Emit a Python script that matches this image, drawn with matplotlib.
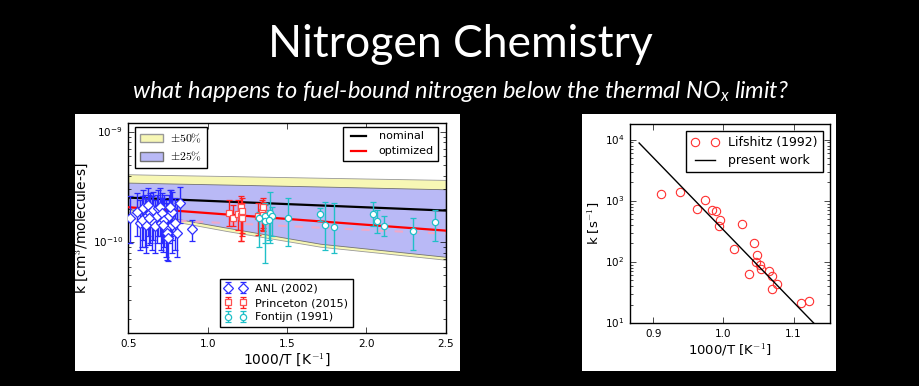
import matplotlib
matplotlib.use('Agg')
import numpy as np
import matplotlib.pyplot as plt
from matplotlib.patches import Patch, Rectangle
from matplotlib.lines import Line2D

plt.style.use('classic')
plt.rcParams['mathtext.fontset'] = 'cm'
plt.rcParams['mathtext.it'] = 'Lato:italic'
plt.rcParams['mathtext.rm'] = 'Lato:italic'

# ---- left panel data (k in units of 1e-10 cm3/molecule-s) ----
band_x = [0.5, 0.8, 1.12, 1.71, 2.5]
yellow_top = [4.12, 4.04, 3.97, 3.83, 3.66]
blue_top = [3.46, 3.39, 3.32, 3.19, 3.01]
blue_bot = [2.00, 1.63, 1.35, 0.966, 0.736]
yellow_bot = [1.88, 1.53, 1.26, 0.908, 0.692]

line_x = [0.5, 2.5]
nominal = [2.53, 1.93]
optimized = [2.07, 1.27]
prior_fit = [1.64, 1.19]

anl_x = [0.51, 0.557, 0.574, 0.595, 0.605, 0.609, 0.622, 0.637, 0.647, 0.658,
         0.668, 0.679, 0.689, 0.70, 0.706, 0.714, 0.727, 0.735, 0.742, 0.748,
         0.756, 0.767, 0.773, 0.777, 0.794, 0.805, 0.828, 0.903, 0.584, 0.63,
         0.72, 0.76]
anl_k = [1.65, 1.89, 1.49, 2.03, 1.65, 1.44, 2.17, 1.83, 1.54, 1.96,
         1.39, 1.71, 2.03, 2.10, 1.49, 1.83, 1.59, 1.34, 1.21, 1.09,
         1.71, 2.03, 1.44, 1.89, 1.49, 1.21, 2.28, 1.31, 1.59, 1.65,
         1.44, 2.10]
anl_hi = [2.59, 2.77, 2.42, 2.97, 2.68, 2.50, 3.07, 2.77, 2.59, 2.87,
          2.42, 2.68, 2.97, 3.07, 2.50, 2.77, 2.68, 2.42, 2.25, 2.10,
          2.68, 2.97, 2.42, 2.87, 2.50, 2.25, 3.18, 1.59, 2.59, 2.68,
          2.50, 2.97]
anl_lo = [0.98, 1.13, 0.85, 1.05, 0.91, 0.80, 1.13, 0.98, 0.85, 1.05,
          0.80, 0.98, 1.13, 1.13, 0.85, 0.98, 0.91, 0.74, 0.69, 0.67,
          0.98, 1.13, 0.80, 1.05, 0.85, 0.74, 1.49, 1.02, 0.91, 0.945,
          0.82, 1.09]

pr_x = [1.134, 1.162, 1.193, 1.208, 1.21, 1.215, 1.218, 1.319, 1.34, 1.351, 1.347]
pr_k = [1.83, 1.65, 1.80, 1.71, 2.10, 1.93, 1.65, 1.71, 1.89, 1.77, 2.10]
pr_hi = [2.42, 2.17, 2.42, 2.25, 2.64, 2.50, 2.25, 2.25, 2.42, 2.33, 2.50]
pr_lo = [1.39, 1.39, 1.29, 1.02, 1.02, 1.13, 1.21, 1.17, 1.29, 1.25, 1.34]

fo_x = [1.324, 1.36, 1.36, 1.393, 1.403, 1.389, 1.508, 1.71, 1.739, 1.798,
        2.04, 2.065, 2.111, 2.296, 2.433]
fo_k = [1.65, 1.73, 1.54, 1.85, 1.71, 1.57, 1.65, 1.79, 1.44, 1.37,
        1.80, 1.54, 1.41, 1.25, 1.51]
fo_hi = [1.89, 2.25, 2.17, 2.87, 2.10, 1.96, 2.50, 2.03, 2.33, 2.25,
         2.33, 1.96, 1.71, 1.65, 1.96]
fo_lo = [0.91, 0.98, 0.645, 0.98, 1.13, 1.05, 0.93, 1.54, 0.85, 0.80,
         1.39, 1.21, 1.13, 0.85, 1.02]

# ---- right panel data ----
lif_x = [0.911, 0.938, 0.963, 0.974, 0.984, 0.990, 0.995, 0.994, 1.027, 1.015,
         1.044, 1.048, 1.047, 1.052, 1.053, 1.037, 1.065, 1.070, 1.076, 1.070,
         1.110, 1.122]
lif_k = [1306, 1410, 733, 1016, 714, 688, 491, 382, 417, 163,
         204, 131, 98, 90, 76, 63, 72, 59, 43, 36,
         21, 23]
present_x = [0.88, 1.15]
present_k = [8800, 5.6]

S = 1e-10
yellow_c = '#f7f7b5'
blue_c = '#b9b9f6'

fig = plt.figure(figsize=(9.2, 3.86), dpi=100, facecolor='black')

# white slide panels
fig.add_artist(Rectangle((75 / 920, 15 / 386), 385 / 920, 257 / 386,
                         transform=fig.transFigure, facecolor='white',
                         edgecolor='none', zorder=0))
fig.add_artist(Rectangle((582 / 920, 15 / 386), 254 / 920, 257 / 386,
                         transform=fig.transFigure, facecolor='white',
                         edgecolor='none', zorder=0))

fig.text(0.5, 0.852, 'Nitrogen Chemistry', color='white', family='Lato',
         fontsize=32, ha='center', va='baseline')
fig.text(0.5, 0.745,
         r'what happens to fuel-bound nitrogen below the thermal NO$_x$ limit?',
         color='white', family='Lato', style='italic',
         fontsize=17, ha='center', va='baseline', math_fontfamily='custom')

# ---- left axes ----
ax = fig.add_axes([128.3 / 920, 53 / 386, 317.4 / 920, 210 / 386])
bx = np.array(band_x)
ax.fill_between(bx, np.array(yellow_bot) * S, np.array(yellow_top) * S,
                facecolor=yellow_c, edgecolor='0.6', linewidth=0.6, zorder=1)
ax.fill_between(bx, np.array(blue_bot) * S, np.array(blue_top) * S,
                facecolor=blue_c, edgecolor='0.45', linewidth=0.6, zorder=1)
ax.plot(line_x, np.array(prior_fit) * S, '--', color='#f0a8c8', lw=1.5, zorder=2)
ax.plot(line_x, np.array(nominal) * S, color='black', lw=1.6, zorder=3)
ax.plot(line_x, np.array(optimized) * S, color='red', lw=1.6, zorder=3)


def err(k, lo, hi):
    k = np.array(k) * S
    return k, [k - np.array(lo) * S, np.array(hi) * S - k]


k, e = err(anl_k, anl_lo, anl_hi)
h1 = ax.errorbar(anl_x, k, yerr=e, fmt='D', ms=5.5, mfc='white', mec='#3030ff',
                 mew=0.9, ecolor='#2a2aff', elinewidth=1.0, capsize=2,
                 label='ANL (2002)', zorder=4)
k, e = err(pr_k, pr_lo, pr_hi)
h2 = ax.errorbar(pr_x, k, yerr=e, fmt='s', ms=5, mfc='white', mec='#ff5050',
                 mew=0.9, ecolor='#ff2020', elinewidth=1.0, capsize=2,
                 label='Princeton (2015)', zorder=4)
k, e = err(fo_k, fo_lo, fo_hi)
h3 = ax.errorbar(fo_x, k, yerr=e, fmt='o', ms=4.5, mfc='white', mec='#20c0c8',
                 mew=0.9, ecolor='#20c0c8', elinewidth=1.0, capsize=2,
                 label='Fontijn (1991)', zorder=4)

ax.set_yscale('log')
ax.set_xlim(0.5, 2.5)
ax.set_ylim(1.5e-11, 1.2e-9)
ax.set_xticks([0.5, 1.0, 1.5, 2.0, 2.5])
ax.tick_params(labelsize=7.5)
ax.set_xlabel(r'1000/T [K$^{-1}$]', fontsize=10, labelpad=2)
ax.set_ylabel(r'k [cm$^3$/molecule-s]', fontsize=10, labelpad=2)

leg1 = ax.legend([Patch(facecolor=yellow_c, edgecolor='0.6'),
                  Patch(facecolor=blue_c, edgecolor='0.45')],
                 [r'$\pm50\%$', r'$\pm25\%$'], loc='upper left',
                 bbox_to_anchor=(0.021, 0.981), borderaxespad=0, fontsize=8.5,
                 handlelength=2.0, handletextpad=0.6, labelspacing=0.45,
                 framealpha=1)
ax.add_artist(leg1)
leg2 = ax.legend([Line2D([], [], color='black', lw=1.6),
                  Line2D([], [], color='red', lw=1.6)],
                 ['nominal', 'optimized'], loc='upper right',
                 bbox_to_anchor=(0.976, 0.981), borderaxespad=0, fontsize=8,
                 handlelength=2.0, labelspacing=0.45, framealpha=1)
ax.add_artist(leg2)
ax.legend([h1, h2, h3], ['ANL (2002)', 'Princeton (2015)', 'Fontijn (1991)'],
          loc='lower center', bbox_to_anchor=(0.498, 0.029), borderaxespad=0,
          fontsize=8, numpoints=2, framealpha=1, handlelength=2.0,
          labelspacing=0.4)

# ---- right axes ----
ax2 = fig.add_axes([630 / 920, 63 / 386, 200 / 920, 199 / 386])
ax2.plot(lif_x, lif_k, 'o', ms=6, mfc='none', mec='#ff3030', mew=0.8,
         label='Lifshitz (1992)')
ax2.plot(present_x, present_k, color='black', lw=1.0, label='present work')
ax2.set_yscale('log')
ax2.set_xlim(0.867, 1.152)
ax2.set_ylim(10, 1.8e4)
ax2.set_xticks([0.9, 1.0, 1.1])
ax2.tick_params(labelsize=7.5)
ax2.set_xlabel(r'1000/T [K$^{-1}$]', fontsize=9.5, labelpad=2)
ax2.set_ylabel(r'k [s$^{-1}$]', fontsize=9.5, labelpad=2)
ax2.legend(loc='upper right', bbox_to_anchor=(0.965, 0.965), borderaxespad=0,
           fontsize=9, numpoints=2, framealpha=1, handlelength=2.2,
           labelspacing=0.4)

fig.savefig('out.png', dpi=100, facecolor='black')
